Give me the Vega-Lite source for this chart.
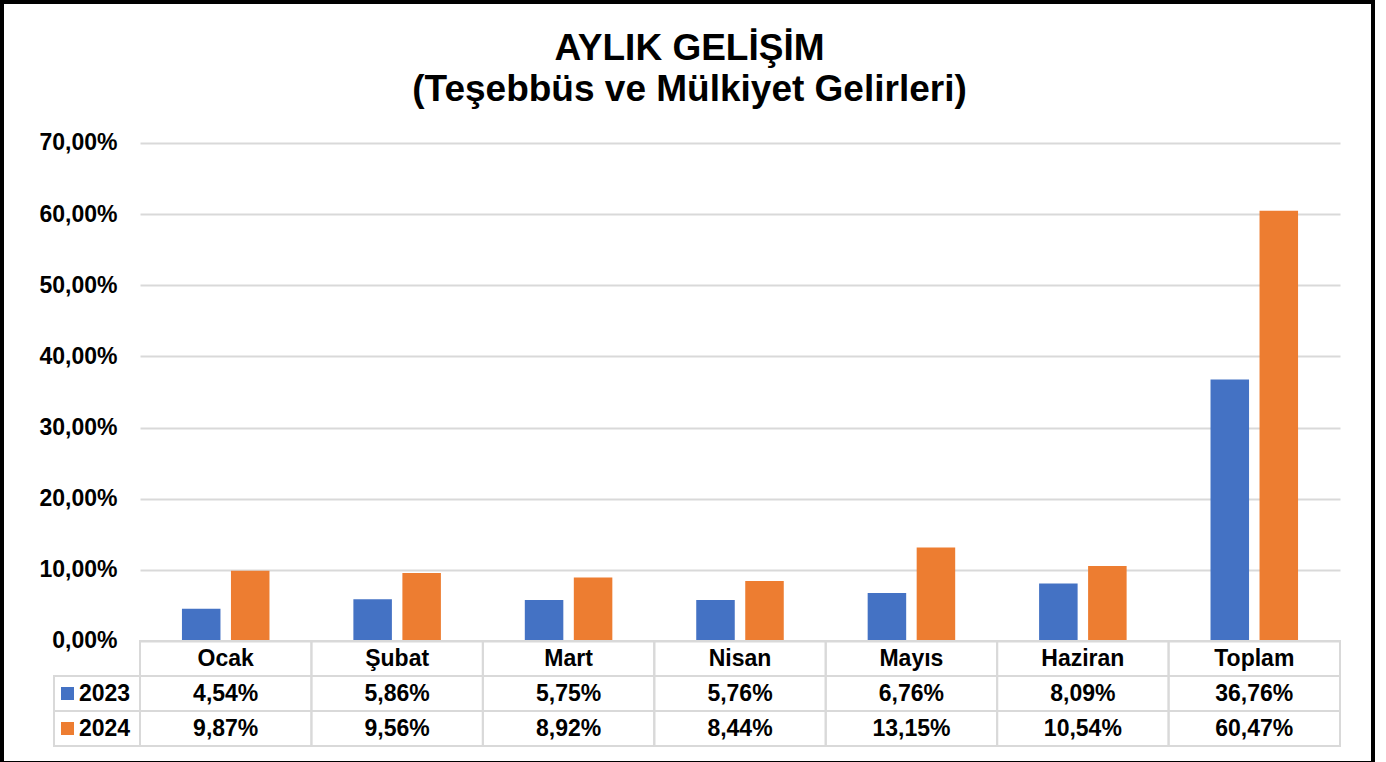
{
  "$schema": "https://vega.github.io/schema/vega-lite/v6.json",
  "autosize": {"type": "none"},
  "width": 1371,
  "height": 761,
  "padding": {"left": 2, "top": 2, "right": 13, "bottom": 0},
  "background": "white",
  "config": {
    "view": {"stroke": "#000000", "strokeWidth": 4},
    "locale": {"number": {"decimal": ",", "thousands": ".", "grouping": [3], "currency": ["", " TL"]}},
    "font": "Liberation Sans",
    "text": {"font": "Liberation Sans", "fontSize": 23, "fontWeight": "bold", "color": "#000000"}
  },
  "title": {
    "text": ["AYLIK GELİŞİM", "(Teşebbüs ve Mülkiyet Gelirleri)"],
    "font": "Liberation Sans",
    "fontSize": 37,
    "fontWeight": "bold",
    "color": "#000000",
    "lineHeight": 41,
    "anchor": "middle",
    "offset": -107,
    "dx": 2
  },
  "data": {
    "values": [
      {"ay": "Ocak", "yil": "2023", "oran": 0.0454},
      {"ay": "Ocak", "yil": "2024", "oran": 0.0987},
      {"ay": "Şubat", "yil": "2023", "oran": 0.0586},
      {"ay": "Şubat", "yil": "2024", "oran": 0.0956},
      {"ay": "Mart", "yil": "2023", "oran": 0.0575},
      {"ay": "Mart", "yil": "2024", "oran": 0.0892},
      {"ay": "Nisan", "yil": "2023", "oran": 0.0576},
      {"ay": "Nisan", "yil": "2024", "oran": 0.0844},
      {"ay": "Mayıs", "yil": "2023", "oran": 0.0676},
      {"ay": "Mayıs", "yil": "2024", "oran": 0.1315},
      {"ay": "Haziran", "yil": "2023", "oran": 0.0809},
      {"ay": "Haziran", "yil": "2024", "oran": 0.1054},
      {"ay": "Toplam", "yil": "2023", "oran": 0.3676},
      {"ay": "Toplam", "yil": "2024", "oran": 0.6047}
    ]
  },
  "layer": [
    {
      "layer": [
        {
          "mark": {"type": "bar"},
          "encoding": {
            "x": {"field": "ay", "type": "nominal", "scale": {"domain": ["Ocak", "Şubat", "Mart", "Nisan", "Mayıs", "Haziran", "Toplam"], "paddingInner": 0, "paddingOuter": 0.49875, "align": 0.80702}, "axis": null},
            "xOffset": {"field": "yil", "type": "nominal", "scale": {"domain": ["2023", "2024"], "paddingInner": 0.214, "paddingOuter": 0.856}},
            "y": {
              "field": "oran", "type": "quantitative",
              "scale": {"domain": [-0.17149, 0.89819], "nice": false, "zero": false},
              "axis": {
                "orient": "left", "offset": -1338,
                "values": [0, 0.1, 0.2, 0.3, 0.4, 0.5, 0.6, 0.7],
                "format": ".2%", "domain": false, "grid": false,
                "ticks": true, "tickSize": 1200, "tickColor": "#d9d9d9", "tickWidth": 2,
                "labelPadding": 23, "labelFont": "Liberation Sans", "labelFontSize": 23, "labelFontWeight": "bold", "labelColor": "#000000",
                "labelOverlap": false, "labelFlush": false, "title": null, "zindex": 0
              }
            },
            "y2": {"datum": 0},
            "color": {"field": "yil", "type": "nominal", "scale": {"domain": ["2023", "2024"], "range": ["#4472c4", "#ed7d31"]}, "legend": null}
          }
        },
        {
          "layer": [
            {
              "transform": [{"filter": "datum.yil == '2023'"}],
              "mark": {"type": "rect", "fill": "transparent", "stroke": "#d9d9d9", "strokeWidth": 2},
              "encoding": {
                "x": {"field": "ay", "type": "nominal", "scale": {"domain": ["Ocak", "Şubat", "Mart", "Nisan", "Mayıs", "Haziran", "Toplam"], "paddingInner": 0, "paddingOuter": 0.49875, "align": 0.80702}, "axis": null},
                "y": {"datum": "Ay", "type": "nominal", "scale": {"domain": ["Ay", "2023", "2024"], "paddingInner": 0, "paddingOuter": 0, "range": [639, 744]}, "axis": null}
              }
            },
            {
              "mark": {"type": "rect", "fill": "transparent", "stroke": "#d9d9d9", "strokeWidth": 2},
              "encoding": {
                "x": {"field": "ay", "type": "nominal", "scale": {"domain": ["Ocak", "Şubat", "Mart", "Nisan", "Mayıs", "Haziran", "Toplam"], "paddingInner": 0, "paddingOuter": 0.49875, "align": 0.80702}, "axis": null},
                "y": {"field": "yil", "type": "nominal", "scale": {"domain": ["Ay", "2023", "2024"], "paddingInner": 0, "paddingOuter": 0, "range": [639, 744]}, "axis": null}
              }
            },
            {
              "transform": [{"filter": "datum.yil == '2023'"}],
              "mark": {"type": "text", "align": "center", "baseline": "middle"},
              "encoding": {
                "x": {"field": "ay", "type": "nominal", "scale": {"domain": ["Ocak", "Şubat", "Mart", "Nisan", "Mayıs", "Haziran", "Toplam"], "paddingInner": 0, "paddingOuter": 0.49875, "align": 0.80702}, "axis": null},
                "y": {"datum": "Ay", "type": "nominal", "scale": {"domain": ["Ay", "2023", "2024"], "paddingInner": 0, "paddingOuter": 0, "range": [639, 744]}, "axis": null},
                "text": {"field": "ay", "type": "nominal"}
              }
            },
            {
              "mark": {"type": "text", "align": "center", "baseline": "middle"},
              "encoding": {
                "x": {"field": "ay", "type": "nominal", "scale": {"domain": ["Ocak", "Şubat", "Mart", "Nisan", "Mayıs", "Haziran", "Toplam"], "paddingInner": 0, "paddingOuter": 0.49875, "align": 0.80702}, "axis": null},
                "y": {"field": "yil", "type": "nominal", "scale": {"domain": ["Ay", "2023", "2024"], "paddingInner": 0, "paddingOuter": 0, "range": [639, 744]}, "axis": null},
                "text": {"field": "oran", "type": "quantitative", "format": ".2%"}
              }
            }
          ]
        }
      ],
      "resolve": {"scale": {"y": "independent"}, "axis": {"y": "independent"}}
    },
    {
      "transform": [{"filter": "datum.ay == 'Ocak'"}],
      "layer": [
        {
          "mark": {"type": "rect", "fill": "transparent", "stroke": "#d9d9d9", "strokeWidth": 2},
          "encoding": {
            "x": {"datum": "leg", "type": "nominal", "scale": {"domain": ["leg"], "paddingInner": 0, "paddingOuter": 0, "range": [52, 138]}, "axis": null},
            "y": {"field": "yil", "type": "nominal", "scale": {"domain": ["Ay", "2023", "2024"], "paddingInner": 0, "paddingOuter": 0, "range": [639, 744]}, "axis": null}
          }
        },
        {
          "mark": {"type": "square", "size": 169, "filled": true, "opacity": 1, "strokeWidth": 0},
          "encoding": {
            "x": {"datum": "leg", "type": "nominal", "bandPosition": 0.157, "scale": {"domain": ["leg"], "paddingInner": 0, "paddingOuter": 0, "range": [52, 138]}, "axis": null},
            "y": {"field": "yil", "type": "nominal", "scale": {"domain": ["Ay", "2023", "2024"], "paddingInner": 0, "paddingOuter": 0, "range": [639, 744]}, "axis": null},
            "color": {"field": "yil", "type": "nominal", "scale": {"domain": ["2023", "2024"], "range": ["#4472c4", "#ed7d31"]}, "legend": null}
          }
        },
        {
          "mark": {"type": "text", "align": "left", "baseline": "middle"},
          "encoding": {
            "x": {"datum": "leg", "type": "nominal", "bandPosition": 0.2907, "scale": {"domain": ["leg"], "paddingInner": 0, "paddingOuter": 0, "range": [52, 138]}, "axis": null},
            "y": {"field": "yil", "type": "nominal", "scale": {"domain": ["Ay", "2023", "2024"], "paddingInner": 0, "paddingOuter": 0, "range": [639, 744]}, "axis": null},
            "text": {"field": "yil", "type": "nominal"}
          }
        }
      ]
    }
  ],
  "resolve": {"scale": {"x": "independent", "y": "independent"}}
}
